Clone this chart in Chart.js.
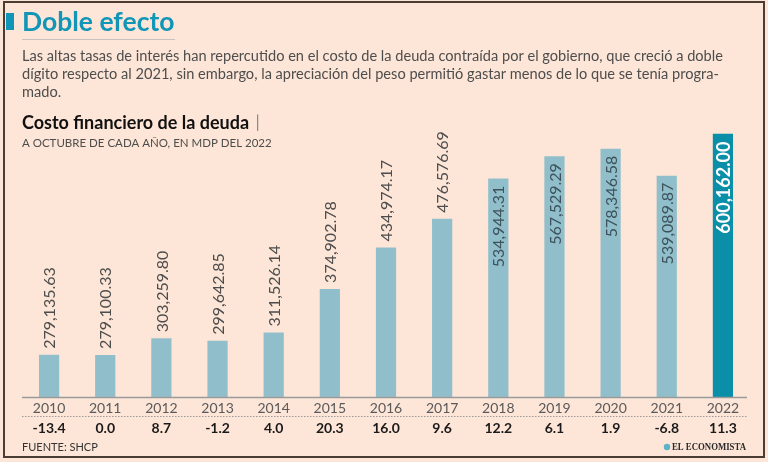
<!DOCTYPE html>
<html><head><meta charset="utf-8">
<script src="https://cdn.jsdelivr.net/npm/chart.js@4/dist/chart.umd.min.js"></script>
<style>
html,body{margin:0;padding:0;background:#fde6d7;}
canvas{display:block;}
</style></head>
<body>
<canvas id="c" width="768" height="462"></canvas>
<script>
// ---- data ----
const years = ['2010','2011','2012','2013','2014','2015','2016','2017','2018','2019','2020','2021','2022'];
const costs = [279135.63, 279100.33, 303259.80, 299642.85, 311526.14, 374902.78, 434974.17, 476576.69, 534944.31, 567529.29, 578346.58, 539089.87, 600162.00];
const changes = ['-13.4','0.0','8.7','-1.2','4.0','20.3','16.0','9.6','12.2','6.1','1.9','-6.8','11.3'];
const highlightIndex = 12;

const FONT = 'Lato, "Open Sans", sans-serif';
const fmt = v => v.toLocaleString('en-US',{minimumFractionDigits:2, maximumFractionDigits:2});

const decor = {
  id:'decor',
  beforeDraw(chart){
    const ctx = chart.ctx;
    ctx.save();
    ctx.fillStyle = '#fde6d7';
    ctx.fillRect(0,0,768,462);
    // border
    ctx.strokeStyle = '#4a3b33';
    ctx.lineWidth = 2;
    ctx.strokeRect(4,2,760,455);
    // marker
    ctx.fillStyle = '#1296b8';
    ctx.fillRect(6,13,8,17);
    // title
    ctx.fillStyle = '#1296b8';
    ctx.font = 'bold 26.5px ' + FONT;
    ctx.textBaseline = 'middle';
    ctx.textAlign = 'left';
    ctx.fillText('Doble efecto', 22, 22);
    ctx.strokeStyle = '#c9c3bf';
    ctx.lineWidth = 1;
    ctx.beginPath(); ctx.moveTo(22,39.5); ctx.lineTo(175,39.5); ctx.stroke();
    // paragraph
    ctx.fillStyle = '#4d4d4d';
    ctx.font = '14.6px ' + FONT;
    ctx.fillText('Las altas tasas de interés han repercutido en el costo de la deuda contraída por el gobierno, que creció a doble', 22, 56);
    ctx.fillText('dígito respecto al 2021, sin embargo, la apreciación del peso permitió gastar menos de lo que se tenía progra-', 22, 74);
    ctx.fillText('mado.', 22, 92);
    // chart title
    ctx.fillStyle = '#111';
    ctx.font = 'bold 18px ' + FONT;
    ctx.fillText('Costo financiero de la deuda', 22, 123);
    const w = ctx.measureText('Costo financiero de la deuda ').width;
    ctx.fillStyle = '#888';
    ctx.font = '17px ' + FONT;
    ctx.fillText('|', 22 + w + 2, 123);
    ctx.fillStyle = '#4d4d4d';
    ctx.font = '11.5px ' + FONT;
    ctx.fillText('A OCTUBRE DE CADA AÑO, EN MDP DEL 2022', 22, 143);
    ctx.restore();
  },
  afterDraw(chart){
    const ctx = chart.ctx;
    const xs = chart.scales.x;
    const ca = chart.chartArea;
    ctx.save();
    // baseline
    ctx.strokeStyle = '#9a9a9a';
    ctx.lineWidth = 1.5;
    ctx.beginPath(); ctx.moveTo(22, ca.bottom+0.5); ctx.lineTo(747, ca.bottom+0.5); ctx.stroke();
    // dotted separator
    ctx.strokeStyle = '#9a9a9a';
    ctx.lineWidth = 1;
    ctx.setLineDash([1.5,1.5]);
    ctx.beginPath(); ctx.moveTo(22, 416.5); ctx.lineTo(747, 416.5); ctx.stroke();
    ctx.setLineDash([]);
    // change row
    ctx.fillStyle = '#1a1a1a';
    ctx.font = 'bold 14px ' + FONT;
    ctx.textAlign = 'center';
    ctx.textBaseline = 'middle';
    changes.forEach((c,i)=>{ ctx.fillText(c, xs.getPixelForValue(i), 428); });
    // value labels
    const meta = chart.getDatasetMeta(0);
    meta.data.forEach((bar,i)=>{
      ctx.save();
      const txt = fmt(costs[i]);
      ctx.font = '16px ' + FONT;
      const tw = ctx.measureText(txt).width;
      if(i===highlightIndex){
        ctx.translate(bar.x, bar.y + 8);
        ctx.rotate(-Math.PI/2);
        ctx.textAlign = 'right';
        ctx.textBaseline = 'middle';
        ctx.fillStyle = '#ffffff';
        ctx.font = 'bold 18px ' + FONT;
      } else if (bar.y - 6 - tw < ca.top) {
        ctx.translate(bar.x, bar.y + 7);
        ctx.rotate(-Math.PI/2);
        ctx.textAlign = 'right';
        ctx.textBaseline = 'middle';
        ctx.fillStyle = '#3e525b';
      } else {
        ctx.translate(bar.x, bar.y - 6);
        ctx.rotate(-Math.PI/2);
        ctx.textAlign = 'left';
        ctx.textBaseline = 'middle';
        ctx.fillStyle = '#4d4d4d';
      }
      ctx.fillText(txt, 0, 1);
      ctx.restore();
    });
    // footer
    ctx.textAlign = 'left';
    ctx.fillStyle = '#333';
    ctx.font = '11px ' + FONT;
    ctx.fillText('FUENTE: SHCP', 22, 447);
    ctx.save();
    ctx.font = 'bold 11px "Liberation Serif", serif';
    const ew = ctx.measureText('EL ECONOMISTA').width;
    const sx = 74 / ew;
    ctx.translate(746, 447);
    ctx.scale(sx, 1);
    ctx.textAlign = 'right';
    ctx.fillStyle = '#2a2a2a';
    ctx.fillText('EL ECONOMISTA', 0, 0);
    ctx.restore();
    ctx.fillStyle = '#5fb3c8';
    ctx.beginPath(); ctx.arc(746 - 74 - 5, 447, 3.2, 0, Math.PI*2); ctx.fill();
    ctx.restore();
  }
};

new Chart(document.getElementById('c'), {
  type:'bar',
  data:{
    labels: years,
    datasets:[{
      data: costs,
      backgroundColor: years.map((_,i)=> i===highlightIndex ? '#0b8ea8' : '#90bfcb'),
      borderWidth:0,
      barPercentage:0.36,
      categoryPercentage:1.0
    }]
  },
  options:{
    responsive:false,
    devicePixelRatio:1,
    animation:false,
    layout:{padding:{left:21, right:17, top:120, bottom:0}},
    plugins:{legend:{display:false}, tooltip:{enabled:false}},
    scales:{
      x:{
        grid:{display:false, drawTicks:false},
        border:{display:false},
        ticks:{color:'#5a5a5a', font:{family:FONT, size:14}, padding:3, maxRotation:0},
        afterFit(s){ s.height = 65; }
      },
      y:{
        display:false,
        min:218000,
        max:620000
      }
    }
  },
  plugins:[decor]
});
</script>
</body></html>
